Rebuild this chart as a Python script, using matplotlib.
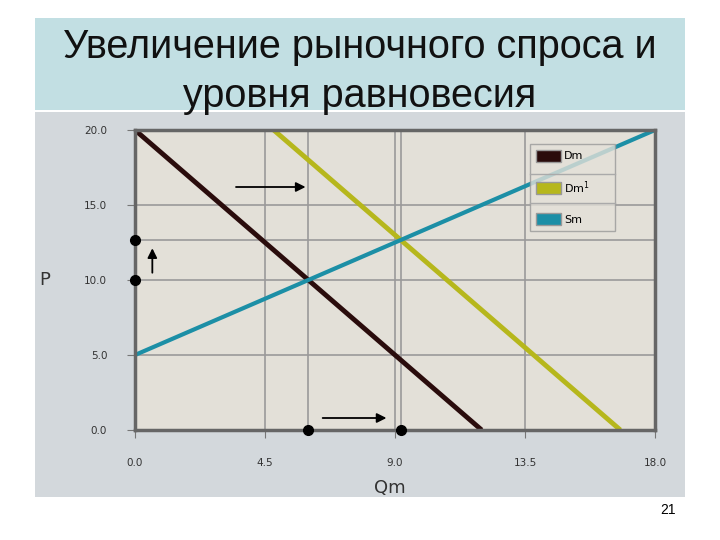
import matplotlib.pyplot as plt
from matplotlib.patches import Rectangle, Patch

# data
q_dm = [0.0, 12.0]
p_dm = [20.0, 0.0]
q_dm1 = [4.8, 16.8]
p_dm1 = [20.0, 0.0]
q_sm = [0.0, 18.0]
p_sm = [5.0, 20.0]
eq_q = [6.0, 9.2]
eq_p = [10.0, 12.7]
xticks = [0.0, 4.5, 9.0, 13.5, 18.0]
yticks = [0.0, 5.0, 10.0, 15.0, 20.0]

fig = plt.figure(figsize=(7.2, 5.4), dpi=100)
fig.patch.set_facecolor('white')

# title box and grey chart panel
fig.patches.append(Rectangle((35/720, 1-110/540), 650/720, 92/540, transform=fig.transFigure,
                             facecolor='#c2dfe3', edgecolor='none', zorder=-10))
fig.patches.append(Rectangle((35/720, 1-497/540), 650/720, 385/540, transform=fig.transFigure,
                             facecolor='#d3d8dc', edgecolor='none', zorder=-10))
fig.text(0.5, 1-47/540, 'Увеличение рыночного спроса и', ha='center', va='center',
         fontsize=28.5, family='Liberation Sans', color='#111111')
fig.text(0.5, 1-96/540, 'уровня равновесия', ha='center', va='center',
         fontsize=28.5, family='Liberation Sans', color='#111111')
fig.text(668/720, 1-510/540, '21', ha='center', va='center', fontsize=10, family='Liberation Sans')

ax = fig.add_axes([135/720, 1-430/540, 520/720, 300/540])
ax.set_facecolor('#e3e0d8')
ax.set_xlim(0, 18)
ax.set_ylim(0, 20)
ax.set_xticks(xticks)
ax.set_yticks(yticks)
ax.set_xticklabels(['%.1f' % v for v in xticks])
ax.set_yticklabels(['%.1f' % v for v in yticks])
ax.tick_params(direction='out', length=6, color='#777777', labelsize=7.5, labelcolor='#333333', pad=14)
ax.grid(True, color='#9a9a9a', linewidth=1.2)
for s in ax.spines.values():
    s.set_color('#666666')
    s.set_linewidth(2.5)

# equilibrium guide lines
ax.axvline(eq_q[0], color='#9a9a9a', lw=1.2)
ax.axvline(eq_q[1], color='#9a9a9a', lw=1.2)
ax.axhline(eq_p[1], color='#9a9a9a', lw=1.2)

ax.plot(q_dm, p_dm, color='#2a0c0c', lw=3.5, solid_capstyle='butt')
ax.plot(q_dm1, p_dm1, color='#b6b71c', lw=3.5, solid_capstyle='butt')
ax.plot(q_sm, p_sm, color='#1c8fa6', lw=3, solid_capstyle='butt')

# markers on axes
ax.plot([0, 0], eq_p, 'o', color='black', ms=7, clip_on=False, zorder=5)
ax.plot(eq_q, [0, 0], 'o', color='black', ms=7, clip_on=False, zorder=5)

# shift arrows
arr = dict(arrowstyle='-|>', color='black', lw=1.3, mutation_scale=14)
ax.annotate('', xy=(0.6, 12.3), xytext=(0.6, 10.3), arrowprops=arr)
ax.annotate('', xy=(6.0, 16.2), xytext=(3.4, 16.2), arrowprops=arr)
ax.annotate('', xy=(8.8, 0.8), xytext=(6.4, 0.8), arrowprops=arr)

handles = [Patch(facecolor='#2a0c0c', edgecolor='#999999'),
           Patch(facecolor='#b6b71c', edgecolor='#999999'),
           Patch(facecolor='#1c8fa6', edgecolor='#999999')]
leg = ax.legend(handles, ['Dm', 'Dm$^{1}$', 'Sm'], loc='upper left',
                bbox_to_anchor=(0.76, 0.955, 0.163, 0.0), mode='expand',
                frameon=True, fancybox=False, fontsize=8, labelspacing=1.55, handlelength=2.2,
                handleheight=1.3, borderpad=0.55, handletextpad=0.3, borderaxespad=0)
leg.get_frame().set_facecolor('#e3e0d8')
leg.get_frame().set_edgecolor('#999999')
# separator rules inside the legend box
for yy in (0.853, 0.757):
    ax.plot([0.76, 0.923], [yy, yy], transform=ax.transAxes, color='#aaaaaa', lw=1, zorder=10)

fig.text(45/720, 1-280/540, 'P', ha='center', va='center', fontsize=13, color='#333333')
fig.text(390/720, 1-488/540, 'Qm', ha='center', va='center', fontsize=13, color='#333333')

fig.savefig('out.png', dpi=100)
